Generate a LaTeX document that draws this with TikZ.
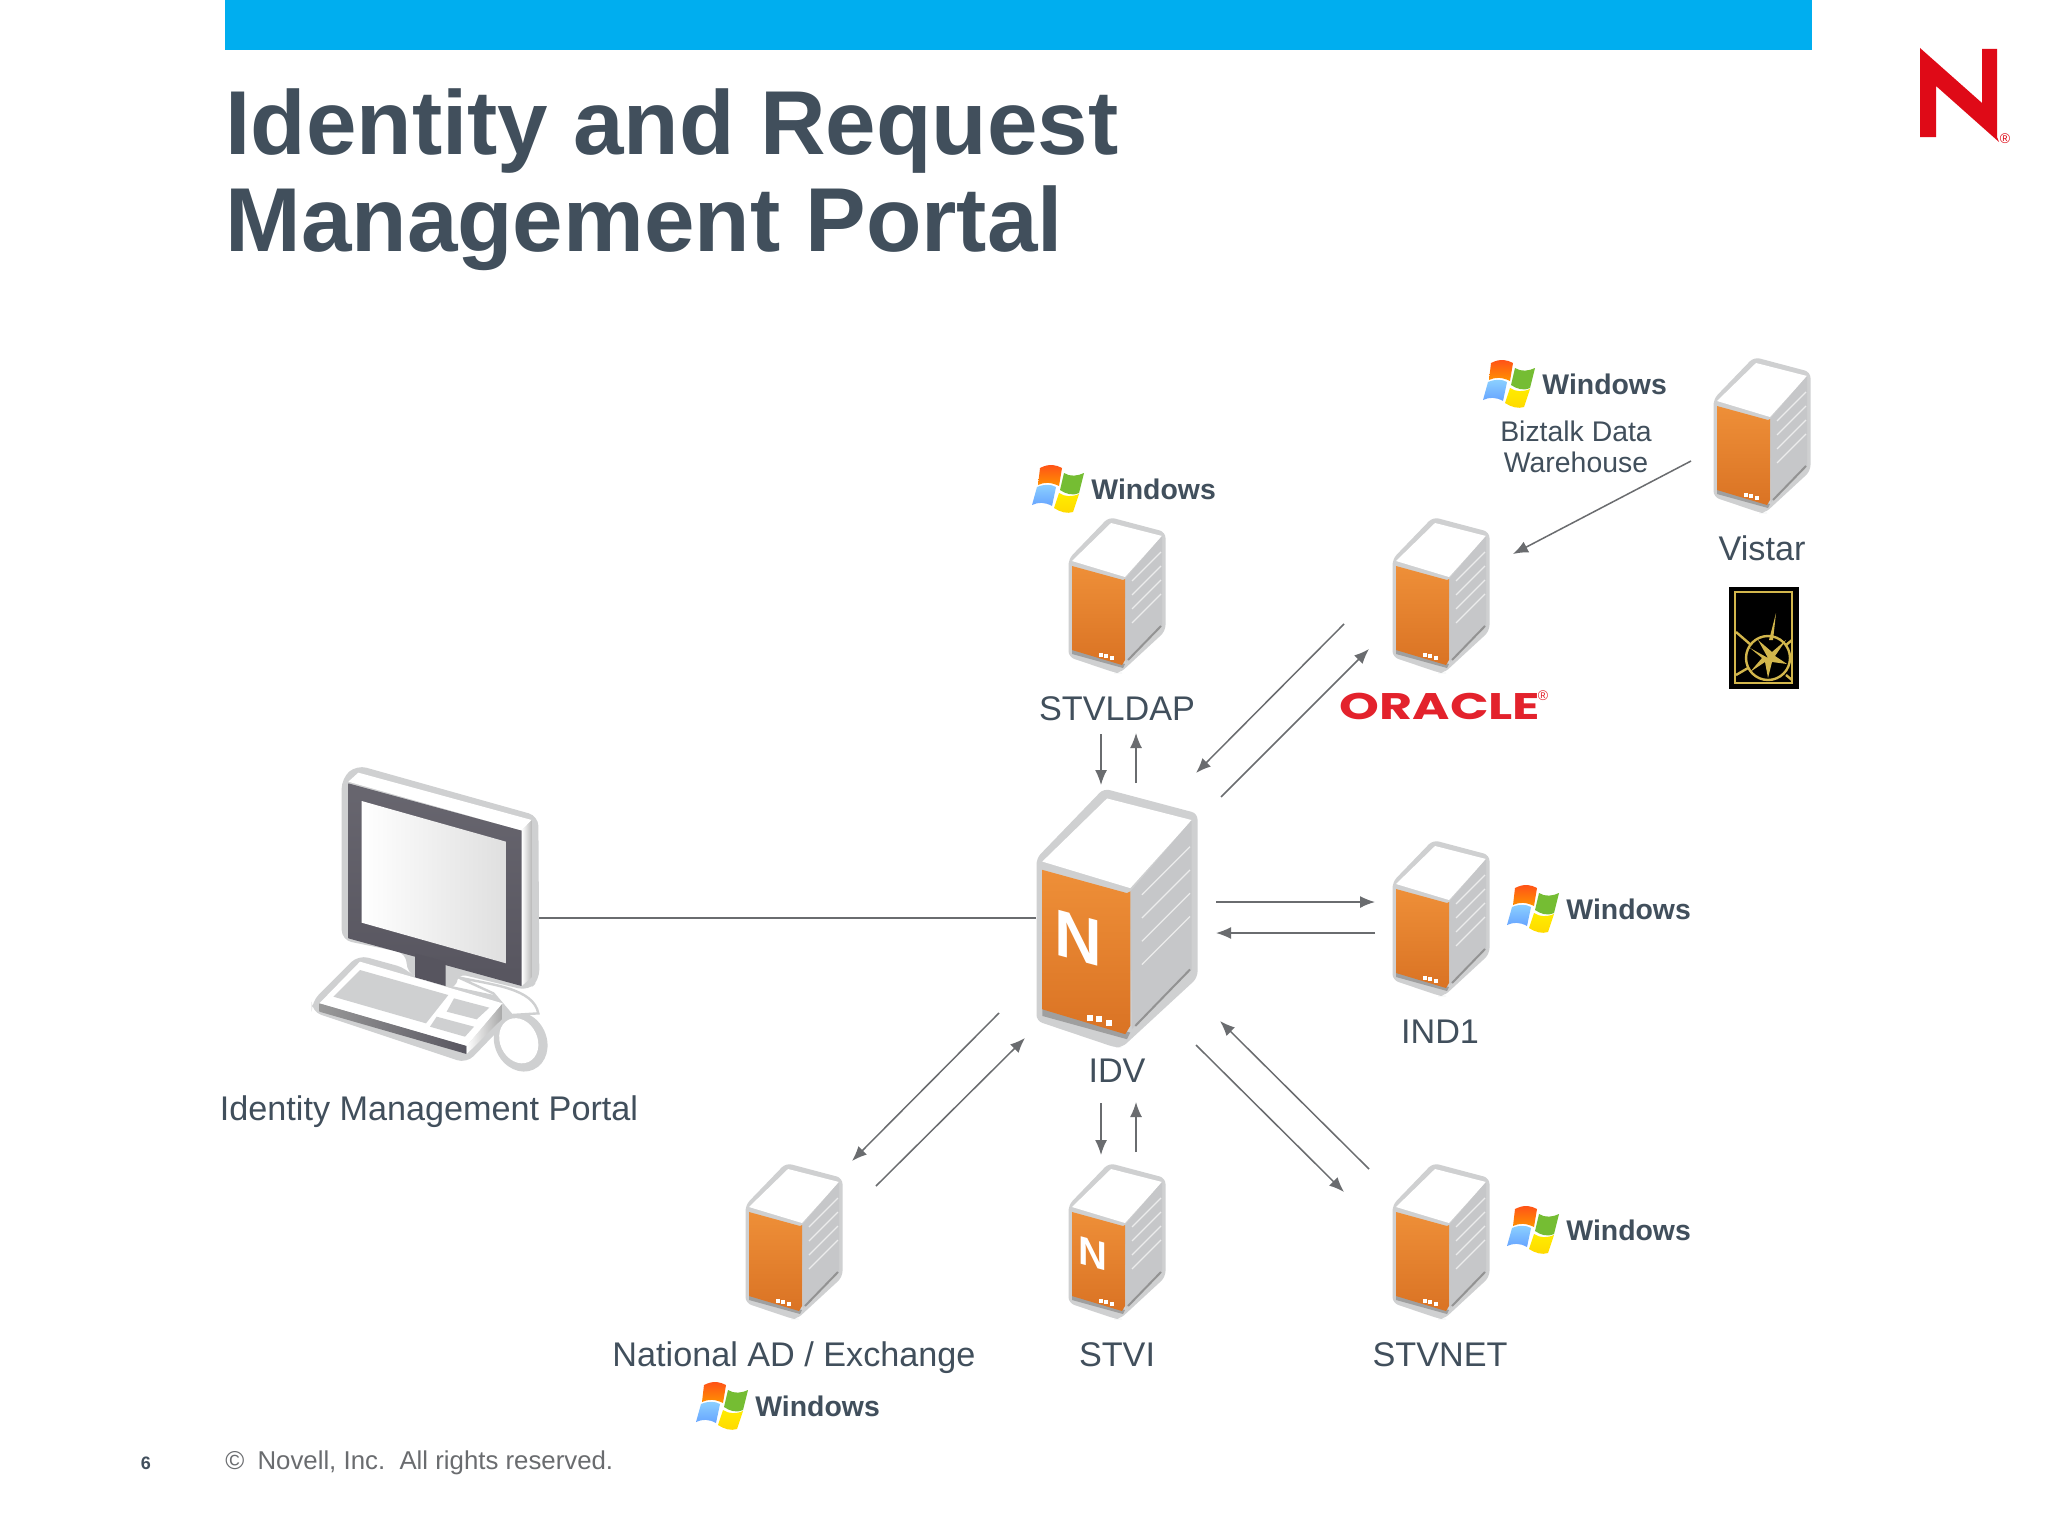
\documentclass[tikz,border=0pt]{standalone}
\usepackage{fontspec}
\setmainfont{Liberation Sans}
\newfontfamily\logofont{Poppins}
\usetikzlibrary{arrows.meta, positioning}
\definecolor{barblue}{HTML}{00AEEF}
\definecolor{slate}{HTML}{414F5C}
\definecolor{linegray}{HTML}{6A6C6F}
\definecolor{rimgray}{HTML}{CFD0D1}
\definecolor{sidegray}{HTML}{C6C7C9}
\definecolor{novellred}{HTML}{DF0A17}
\definecolor{oraclered}{HTML}{E3222C}
\definecolor{gold}{HTML}{D2B64C}
\definecolor{bezel}{HTML}{57555F}
\definecolor{srvtop}{HTML}{EE8F38}
\definecolor{srvbot}{HTML}{DA7324}
\tikzset{
  arrow/.style={-{Latex[length=7.5pt, width=6pt]}, line width=.75pt, linegray},
  link/.style={line width=.75pt, linegray},
  srvbox/.style={rectangle, inner sep=0pt, minimum width=48.5pt, minimum height=76.5pt},
  hubbox/.style={rectangle, inner sep=0pt, minimum width=80.5pt, minimum height=127.5pt},
  pcbox/.style={rectangle, inner sep=0pt, minimum width=114pt, minimum height=153.5pt},
  lbl/.style={inner sep=0pt, text height=13pt, text depth=3.5pt, text=slate, font=\fontsize{17.1}{20}\selectfont},
  wintext/.style={inner sep=0pt, anchor=west, text height=10.5pt, text depth=.5pt, text=slate, font=\fontsize{14.2}{17}\selectfont\bfseries},
  small/.style={inner sep=0pt, text=slate, font=\fontsize{14.2}{15.5}\selectfont, align=center},
  badge/.style={inner sep=0pt, text=white, transform shape, yslant=-.27, font=\bfseries},
  pics/server/.style={code={
    \fill[rimgray, rounded corners=3pt] (-8,-78) -- (48.5,-63) -- (48.5,36) -- (3,78) -- (-1,78) -- (-48.5,62) -- (-48.5,-36) -- cycle;
    \fill[white] (-6,-72) -- (45,-59) -- (8,-18) -- (-45,-34) -- cycle;
    \fill[sidegray] (8,-16) -- (45,-59) -- (45,31) -- (9,67) -- cycle;
    \fill[gray!75] (-45,54) -- (8,69) -- (6,73) -- (-45,59) -- cycle;
    \shade[top color=srvtop, bottom color=srvbot] (-45,-29) -- (6,-15) -- (8,-16) -- (8,65) -- (5,70) -- (-45,55) -- cycle;
    \draw[gray!85, line width=1pt] (11,65) -- (44,31);
    \foreach \s in {-14,0,14,28}
      \draw[gray!15, line width=.6pt] (15,\s) -- (44,\s-29);
    \foreach \dx/\dy in {-16/60,-11/61,-5/63}
      \fill[white] (\dx-1.8,\dy-1.8) rectangle (\dx+1.8,\dy+1.8);
  }},
  pics/winflag/.style={code={
    \shade[top color=red!55!orange!90!white, bottom color=orange!85!yellow] (-18,-21) .. controls (-8,-26) and (-2,-24) .. (4,-21) -- (1,-3) .. controls (-7,-7) and (-14,-7) .. (-20,-4) -- cycle;
    \fill[green!35!olive!80!white] (6,-16) .. controls (12,-12) and (20,-13) .. (26,-16) -- (21,4) .. controls (14,7) and (8,5) .. (2,1) -- cycle;
    \shade[top color=blue!40!cyan!45!white, bottom color=blue!60!cyan!60!white] (-21,-2) .. controls (-14,-5) and (-7,-5) .. (-2,-2) -- (-6,17) .. controls (-13,13) and (-20,13) .. (-26,16) -- cycle;
    \shade[top color=yellow!85!orange, bottom color=yellow!70!orange] (1,4) .. controls (7,8) and (14,8) .. (21,5) -- (15,23) .. controls (9,25) and (2,23) .. (-4,19) -- cycle;
  }},
  pics/desktop/.style={code={
    % monitor and keyboard, in third-of-a-pixel steps from the corner of the icon
    \begin{scope}[x=.16667pt, y=-.16667pt]
      \fill[rimgray, rounded corners=5pt] (230,75) -- (775,228) -- (778,720) -- (745,752) -- (530,700) -- (530,750) -- (380,700) -- (380,640) -- (185,600) -- (185,115) -- cycle;
      \fill[rimgray, rounded corners=5pt] (235,645) -- (380,685) -- (405,715) -- (690,775) -- (690,835) -- (560,970) -- (95,815) -- (95,785) -- cycle;
      \fill[rimgray, rotate around={25:(722,905)}] (722,905) ellipse (78 and 92);
      \fill[white, rotate around={25:(722,905)}] (718,900) ellipse (56 and 70);
      \draw[rimgray, line width=1.2pt, fill=white] (535,712) .. controls (640,735) and (760,745) .. (775,820) -- (695,825) -- (640,760) -- cycle;
      \fill[white] (205,125) -- (235,98) -- (755,240) -- (725,272) -- cycle;
      \shade[left color=white, right color=gray!55] (725,272) -- (755,240) -- (755,712) -- (725,738) -- cycle;
      \shade[top color=bezel!90, bottom color=bezel] (205,130) -- (725,272) -- (725,738) -- (205,595) -- cycle;
      \shade[left color=white, right color=gray!25] (245,183) -- (678,305) -- (678,670) -- (245,548) -- cycle;
      \fill[bezel] (405,640) -- (497,665) -- (497,738) -- (405,712) -- cycle;
      \fill[white] (240,665) -- (668,790) -- (560,918) -- (118,790) -- cycle;
      \shade[left color=gray!80, right color=bezel] (118,790) -- (560,918) -- (560,942) -- (118,815) -- cycle;
      \shade[left color=white, right color=gray!70] (560,918) -- (668,790) -- (668,835) -- (560,942) -- cycle;
      \fill[rimgray] (240,690) -- (505,765) -- (438,850) -- (160,770) -- cycle;
      \fill[rimgray] (522,775) -- (628,803) -- (590,838) -- (500,815) -- cycle;
      \fill[rimgray] (470,830) -- (582,860) -- (555,890) -- (450,860) -- cycle;
    \end{scope}
  }}
}

\begin{document}
\begin{tikzpicture}[x=.5pt, y=-.5pt]
  \path[use as bounding box, fill=white] (0,0) rectangle (2048,1536);

  % Header
  \fill[barblue] (225,0) rectangle (1812,50);
  \node[inner sep=0pt, anchor=north west, text=slate, align=left, font=\fontsize{45.4}{48.5}\selectfont\bfseries] (title) at (225,88) {Identity and Request\\Management Portal};
  \fill[novellred] (1920,48) -- (1982,103) -- (1982,49) -- (1997,49) -- (1997,137) -- (1999,142) -- (1936,86) -- (1936,137) -- (1920,137) -- cycle;
  \node[inner sep=0pt, text=novellred, font=\fontsize{7}{7}\selectfont] (novellmark) at (2005,139) {®};

  % Servers
  \foreach \nm/\x/\y in {stvldap/1117/595, oracle/1441/595, vistar/1762/435, ind1/1441/918, stvnet/1441/1241, stvi/1117/1241, natad/794/1241} {
    \pic at (\x,\y) {server};
    \node[srvbox] (\nm) at (\x,\y) {};
  }
  \pic[scale=1.66] at (1117,918) {server};
  \node[hubbox] (idv) at (1117,918) {};
  \pic at (280,740) {desktop};
  \node[pcbox] (portal) at (425,918) {};
  \node[badge, font=\fontsize{33}{33}\selectfont\bfseries] (idvn) at (1078,938) {N};
  \node[badge, font=\fontsize{20}{20}\selectfont\bfseries] (stvin) at (1093,1254) {N};

  % Windows marks
  \foreach \nm/\x/\y in {winldap/1058/489, winbiz/1509/384, winind/1533/909, winnet/1533/1230, winad/722/1406} {
    \pic at (\x,\y) {winflag};
    \node[wintext] (\nm) at (\x+33,\y) {Windows};
  }

  % Labels
  \node[lbl, below=11pt of stvldap] (ldaplbl) {STVLDAP};
  \node[lbl, below=5pt of idv] (idvlbl) {IDV};
  \node[lbl, below=11pt of ind1, xshift=-.5pt] (indlbl) {IND1};
  \node[lbl, below=11pt of stvnet, xshift=-.5pt] (netlbl) {STVNET};
  \node[lbl, below=11pt of stvi] (stvilbl) {STVI};
  \node[lbl, below=11pt of natad] (adlbl) {National AD / Exchange};
  \node[lbl, below=11pt of vistar] (vistarlbl) {Vistar};
  \node[lbl, below=11pt of portal, xshift=2pt] (portallbl) {Identity Management Portal};
  \node[small] (bizlbl) at (1576,447) {Biztalk Data\\Warehouse};
  \node[inner sep=0pt, text=oraclered, xscale=1.37, font=\logofont\fontsize{18.5}{18.5}\selectfont\bfseries] (oraclelogo) at (1440,706) {ORACLE};
  \node[inner sep=0pt, text=oraclered, font=\fontsize{7}{7}\selectfont] (oraclemark) at (1543,696) {®};

  % Vistar logo
  \fill[black] (1729,587) rectangle (1799,689);
  \draw[gold, line width=.9pt] (1735,592) rectangle (1792,683);
  \draw[gold, line width=1.2pt] (1768,658) circle (22);
  \fill[gold] (1776,613) -- (1773,640) -- (1769,640) -- cycle;
  \fill[gold] (1768,658) -- (1758,640) -- (1772,652) -- (1786,640) -- (1775,656) -- (1787,664) -- (1772,662) -- (1768,678) -- (1765,662) -- (1750,672) -- (1762,658) -- (1750,648) -- cycle;
  \draw[gold, line width=1.2pt] (1736,632) -- (1751,645) (1736,675) -- (1748,668) (1786,675) -- (1792,680) (1786,645) -- (1792,640);

  % Connections
  \draw[link] (portal) -- (idv);
  \draw[arrow] ([shift={(-71,26)}]vistar.center) -- ([shift={(72,-41)}]oracle.center);
  \draw[arrow] ([shift={(-97,29)}]oracle.center) -- ([shift={(79,-145)}]idv.center);
  \draw[arrow] ([shift={(104,-121)}]idv.center) -- ([shift={(-72,54)}]oracle.center);
  \draw[arrow] ([shift={(-16,139)}]stvldap.center) -- ([shift={(-16,-133)}]idv.center);
  \draw[arrow] ([shift={(19,-135)}]idv.center) -- ([shift={(19,138)}]stvldap.center);
  \draw[arrow] ([shift={(99,-16)}]idv.center) -- ([shift={(-66,-16)}]ind1.center);
  \draw[arrow] ([shift={(-66,15)}]ind1.center) -- ([shift={(99,15)}]idv.center);
  \draw[arrow] ([shift={(79,127)}]idv.center) -- ([shift={(-97,-49)}]stvnet.center);
  \draw[arrow] ([shift={(-72,-72)}]stvnet.center) -- ([shift={(103,103)}]idv.center);
  \draw[arrow] ([shift={(-118,95)}]idv.center) -- ([shift={(58,-80)}]natad.center);
  \draw[arrow] ([shift={(82,-55)}]natad.center) -- ([shift={(-92,120)}]idv.center);
  \draw[arrow] ([shift={(-16,185)}]idv.center) -- ([shift={(-16,-86)}]stvi.center);
  \draw[arrow] ([shift={(19,-89)}]stvi.center) -- ([shift={(19,184)}]idv.center);

  % Footer
  \node[inner sep=0pt, text=slate, font=\fontsize{9}{9}\selectfont\bfseries] (pagenum) at (146,1463) {6};
  \node[inner sep=0pt, anchor=west, text=linegray, font=\fontsize{12.9}{13}\selectfont] (rights) at (225,1463) {©\hspace{3pt} Novell, Inc.~~All rights reserved.};
\end{tikzpicture}
\end{document}
